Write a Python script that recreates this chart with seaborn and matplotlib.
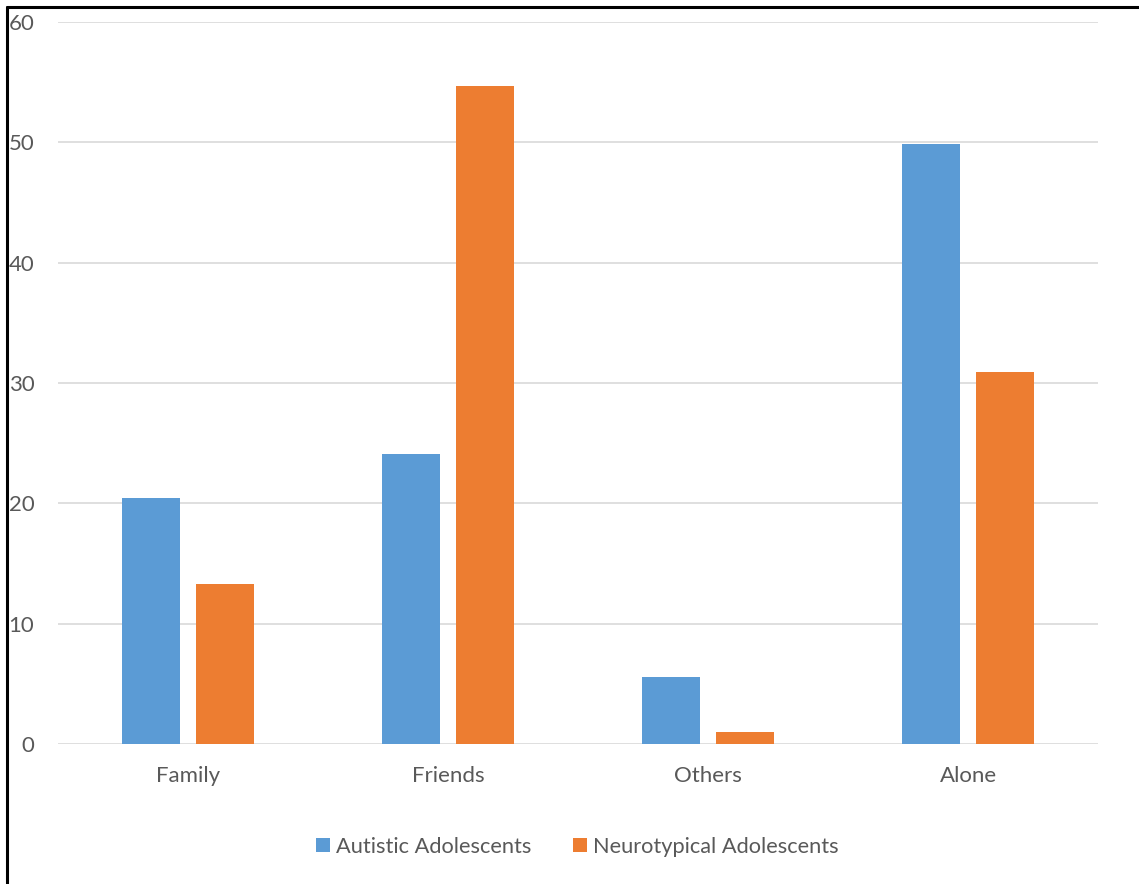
# Bar chart: who adolescents spend time with
import numpy as np
import pandas as pd
import matplotlib.pyplot as plt
from matplotlib.lines import Line2D
import seaborn as sns

# Data
categories = ["Family", "Friends", "Others", "Alone"]
autistic = [20.45, 24.08, 5.6, 49.85]
neurotypical = [13.3, 54.7, 1.02, 30.9]
groups = ["Autistic Adolescents", "Neurotypical Adolescents"]
colors = ["#5B9BD5", "#ED7D31"]
yticks = [0, 10, 20, 30, 40, 50, 60]

df = pd.DataFrame({
    "category": categories * 2,
    "value": autistic + neurotypical,
    "group": [groups[0]] * 4 + [groups[1]] * 4,
})

sns.set_style("white")
plt.rcParams["font.family"] = ["Lato", "DejaVu Sans"]
text_col = "#595959"

fig = plt.figure(figsize=(11.39, 8.84), dpi=100)
ax = fig.add_axes([58 / 1139, 1 - 744 / 884, 1040 / 1139, 722 / 884])

sns.barplot(data=df, x="category", y="value", hue="group", order=categories,
            hue_order=groups, palette=colors, saturation=1, width=0.569,
            gap=0.216, edgecolor="none", ax=ax)

ax.set_xlim(-0.5, 3.5)
ax.set_ylim(0, 60)
ax.set_yticks(yticks)
ax.set_xlabel("")
ax.set_ylabel("")
ax.grid(axis="y", color="#D9D9D9", linewidth=1.2)
ax.set_axisbelow(True)
for s in ax.spines.values():
    s.set_visible(False)
ax.tick_params(axis="both", length=0, labelsize=16, labelcolor=text_col)
ax.tick_params(axis="y", pad=17)
ax.tick_params(axis="x", pad=16)

# legend under the plot
handles, labels = ax.get_legend_handles_labels()
ax.legend_.remove()
fig.legend(handles, labels, loc="center", bbox_to_anchor=(577.5 / 1139, 1 - 847 / 884),
           ncol=2, frameon=False, fontsize=15.7, labelcolor=text_col,
           handlelength=0.62, handleheight=0.62, handletextpad=0.28,
           columnspacing=1.93)

# black frame line on left and top like the cropped original
fig.add_artist(Line2D([7 / 1139, 7 / 1139], [0, 1 - 7 / 884], color="black", linewidth=2.2))
fig.add_artist(Line2D([7 / 1139, 1], [1 - 7 / 884, 1 - 7 / 884], color="black", linewidth=2.2))

fig.savefig("out.png", dpi=100)
